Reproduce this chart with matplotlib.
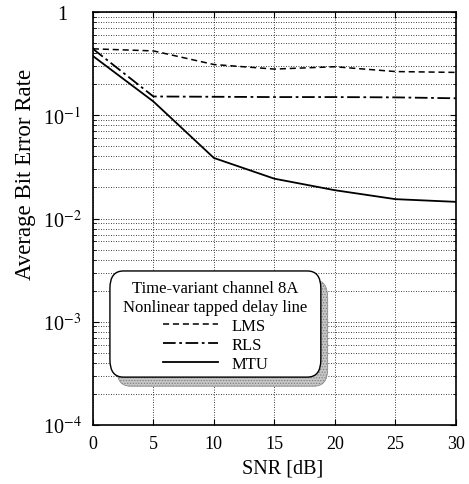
import matplotlib
matplotlib.use("Agg")
import matplotlib.pyplot as plt
from matplotlib.patches import FancyBboxPatch
import numpy as np

plt.rcParams['font.family'] = ['Liberation Serif', 'DejaVu Serif']
plt.rcParams['mathtext.fontset'] = 'stix'
plt.rcParams['hatch.linewidth'] = 0.6

snr = [0, 5, 10, 15, 20, 25, 30]
lms = [0.44, 0.42, 0.31, 0.28, 0.295, 0.265, 0.26]
rls = [0.44, 0.152, 0.151, 0.150, 0.150, 0.149, 0.146]
mtu = [0.375, 0.136, 0.0386, 0.0243, 0.0188, 0.0154, 0.0145]

xticks = [0, 5, 10, 15, 20, 25, 30]
yticks = [1e-4, 1e-3, 1e-2, 1e-1, 1]
ytick_labels = ['10$^{-4}$', '10$^{-3}$', '10$^{-2}$', '10$^{-1}$', '1']

fig = plt.figure(figsize=(4.69, 4.85), dpi=100)
ax = fig.add_axes([0.198, 0.1216, 0.774, 0.8516])

ax.semilogy(snr, lms, color='black', linestyle=(0, (4, 2.5)), linewidth=1.1, label='LMS')
ax.semilogy(snr, rls, color='black', linestyle=(0, (7, 2, 1.5, 2)), linewidth=1.3, label='RLS')
ax.semilogy(snr, mtu, color='black', linestyle='-', linewidth=1.3, label='MTU')

ax.set_xlim(0, 30)
ax.set_ylim(1e-4, 1)
ax.set_xticks(xticks)
ax.set_xticklabels([str(t) for t in xticks], fontsize=13)
ax.set_yticks(yticks)
ax.set_yticklabels(ytick_labels, fontsize=14.5)
for lbl in ax.get_yticklabels():
    lbl.set_horizontalalignment('center')
ax.tick_params(which='both', direction='in', top=True, right=True)
ax.tick_params(which='major', length=4)
ax.tick_params(which='minor', length=2)
ax.tick_params(axis='x', pad=7)
ax.tick_params(axis='y', pad=22)

ax.grid(True, which='major', axis='both', color='black', linestyle=(0, (1, 2)), linewidth=0.6)
ax.grid(True, which='minor', axis='y', color='black', linestyle=(0, (1, 2)), linewidth=0.6)

for s in ax.spines.values():
    s.set_linewidth(1.2)

ax.set_xlabel('SNR [dB]', fontsize=14.5)
ax.xaxis.set_label_coords(0.523, -0.08)
ax.set_ylabel('Average Bit Error Rate', fontsize=16.5)
ax.yaxis.set_label_coords(-0.158, 0.61)

# legend frame with hatched shadow
bx0, by0, bw, bh = 0.047, 0.116, 0.581, 0.257
shadow = FancyBboxPatch((bx0 + 0.019, by0 - 0.022), bw, bh,
                        boxstyle='round,pad=0,rounding_size=0.037',
                        transform=ax.transAxes, facecolor='0.78', edgecolor='0.5',
                        hatch='......', linewidth=0.5, zorder=5, mutation_aspect=413/363)
frame = FancyBboxPatch((bx0, by0), bw, bh,
                       boxstyle='round,pad=0,rounding_size=0.037',
                       transform=ax.transAxes, facecolor='white', edgecolor='black',
                       linewidth=1.0, zorder=6, mutation_aspect=413/363)
ax.add_patch(shadow)
ax.add_patch(frame)

leg = ax.legend(loc='center', bbox_to_anchor=(bx0 + bw / 2, by0 + bh / 2 - 0.004),
                title='Time-variant channel 8A\nNonlinear tapped delay line',
                fontsize=12, title_fontsize=12, handlelength=3.3, handletextpad=0.8,
                labelspacing=0.18, borderpad=0.0, borderaxespad=0, frameon=False)
leg.set_zorder(7)
leg.get_title().set_multialignment('center')
leg.get_title().set_linespacing(1.25)

fig.savefig('out.png', dpi=100)
